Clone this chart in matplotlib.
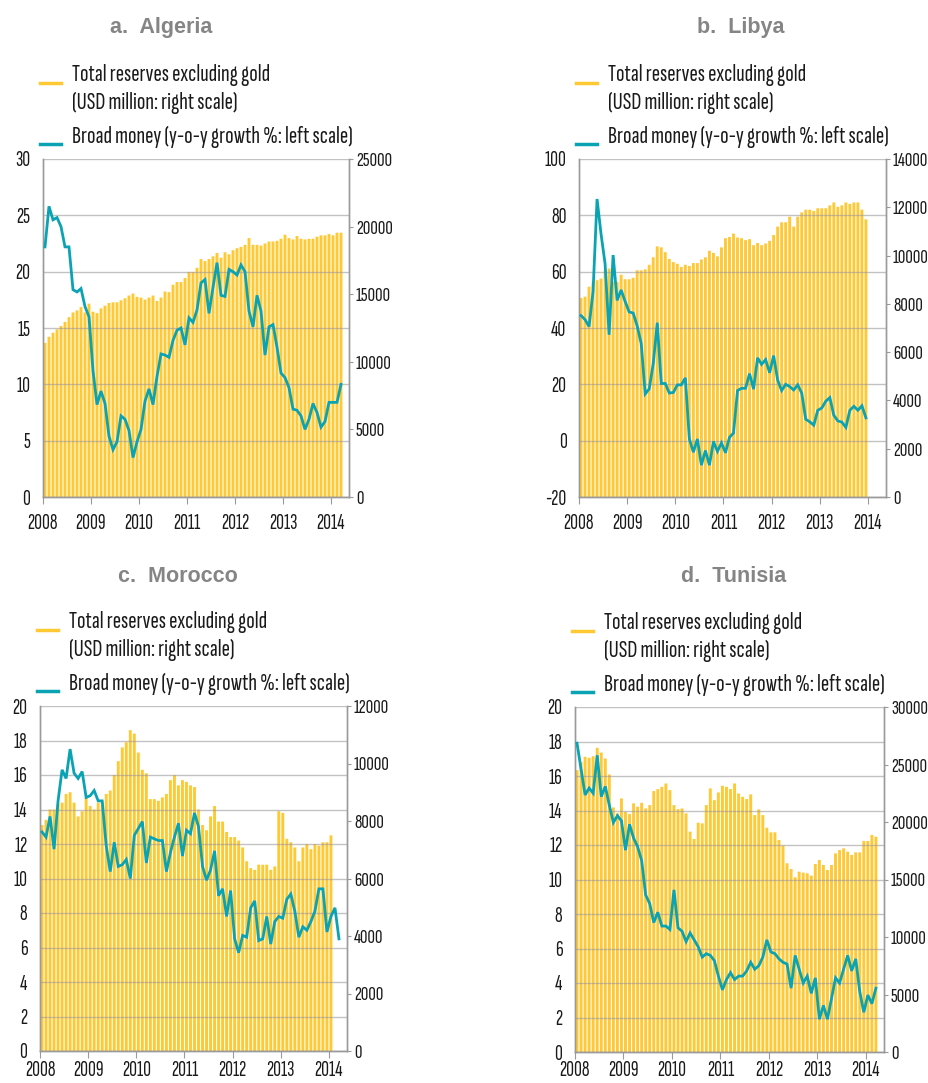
import numpy as np
import matplotlib
matplotlib.use("Agg")
import matplotlib.pyplot as plt
from matplotlib.lines import Line2D

plt.rcParams['font.family'] = ['Sofia Sans Extra Condensed', 'DejaVu Sans']
plt.rcParams['axes.unicode_minus'] = False

years = ["2008", "2009", "2010", "2011", "2012", "2013", "2014"]

# Algeria (Jan 2008 - Mar 2014)
alg_res = [11400, 11850, 12150, 12400, 12650, 12950, 13300, 13650, 13800, 14050, 13650, 14300,
           13700, 13600, 13950, 14150, 14350, 14400, 14400, 14550, 14700, 14900, 15050, 14800,
           14750, 14600, 14750, 14900, 14500, 14750, 15200, 15150, 15700, 15900, 15900, 16200,
           16650, 16650, 16950, 17600, 17450, 17600, 17800, 18050, 17700, 18100, 17950, 18250,
           18400, 18500, 18650, 19150, 18650, 18650, 18600, 18750, 18900, 18900, 18950, 19100,
           19400, 19150, 19050, 19300, 19100, 19050, 19100, 19100, 19250, 19350, 19350, 19450,
           19350, 19550, 19550]
alg_m2 = [22.2, 25.8, 24.6, 24.8, 24.0, 22.2, 22.2, 18.4, 18.2, 18.5, 16.9, 16.0,
          11.2, 8.2, 9.4, 8.3, 5.4, 4.2, 4.9, 7.2, 6.9, 5.9, 3.5, 4.9,
          6.0, 8.5, 9.6, 8.2, 10.7, 12.7, 12.6, 12.4, 13.9, 14.8, 15.0, 13.5,
          15.9, 15.5, 16.6, 19.0, 19.3, 16.3, 18.6, 20.8, 17.9, 17.8, 20.2, 20.0,
          19.7, 20.6, 20.0, 16.5, 15.1, 17.9, 16.5, 12.6, 15.1, 15.3, 13.3, 11.0,
          10.6, 9.7, 7.8, 7.7, 7.2, 6.0, 6.9, 8.3, 7.5, 6.2, 6.7, 8.4,
          8.4, 8.4, 10.0]

# Libya (Jan 2008 - Dec 2013)
lby_res = [8240, 8300, 8710, 8890, 8980, 9050, 9390, 9460, 8910, 8910, 9210, 9020,
           9020, 9080, 9390, 9390, 9430, 9620, 9930, 10380, 10340, 10140, 9860, 9730,
           9660, 9530, 9620, 9570, 9690, 9690, 9840, 9930, 10200, 10110, 9970, 10340,
           10720, 10770, 10910, 10750, 10720, 10640, 10680, 10430, 10520, 10430, 10500, 10610,
           10850, 11200, 11380, 11380, 11610, 11200, 11610, 11790, 11900, 11900, 11850, 11960,
           11960, 11960, 12080, 12200, 12020, 12080, 12200, 12140, 12200, 12200, 11900, 11500]
lby_m2 = [44.4, 43.0, 40.5, 52.9, 85.8, 73.3, 62.8, 37.6, 65.9, 49.8, 53.5, 49.4,
          45.7, 45.3, 40.7, 34.5, 16.6, 18.4, 27.3, 41.9, 20.3, 20.3, 16.9, 17.1,
          19.8, 19.8, 22.3, 0.6, -4.1, 0.6, -8.7, -3.5, -8.7, -0.3, -3.8, -0.8,
          -4.3, 1.2, 2.7, 17.8, 18.6, 18.6, 23.8, 18.3, 29.4, 27.1, 28.8, 24.1,
          30.2, 21.5, 17.8, 20.0, 19.2, 18.0, 19.8, 16.9, 7.6, 6.7, 5.5, 10.8,
          11.6, 14.0, 15.3, 9.0, 7.0, 6.6, 4.7, 10.8, 12.2, 10.8, 12.4, 8.1]

# Morocco (reserves Jan 2008 - Jan 2014, money Jan 2008 - Mar 2014)
mar_res = [7860, 8040, 8400, 8400, 8580, 8640, 8940, 9000, 8640, 8160, 8340, 8820,
           8520, 8400, 8640, 8640, 8940, 9060, 9600, 10080, 10560, 10740, 11160, 11040,
           10380, 9780, 9660, 8760, 8760, 8700, 8820, 8940, 9420, 9600, 9240, 9420,
           9360, 9240, 9180, 8400, 7860, 7680, 8160, 8520, 7980, 7980, 7620, 7440,
           7440, 7320, 7080, 6600, 6360, 6300, 6480, 6480, 6480, 6300, 6420, 8340,
           8280, 7380, 7260, 7080, 6600, 7080, 7200, 7020, 7200, 7140, 7260, 7260,
           7500]
mar_m2 = [12.7, 12.4, 13.6, 11.7, 14.5, 16.3, 15.8, 17.5, 16.1, 15.8, 16.2, 14.7,
          14.8, 15.1, 14.5, 14.5, 11.9, 10.4, 12.1, 10.7, 10.8, 11.1, 10.0, 12.5,
          12.9, 13.3, 10.9, 12.4, 12.3, 12.2, 12.2, 10.4, 11.5, 12.4, 13.2, 11.3,
          12.8, 12.6, 13.8, 13.0, 10.7, 9.9, 10.5, 11.6, 9.0, 9.4, 7.8, 9.3,
          6.5, 5.7, 6.7, 6.6, 8.3, 8.7, 6.4, 6.5, 7.8, 6.2, 7.5, 7.8,
          7.7, 8.8, 9.1, 8.1, 6.6, 7.2, 7.0, 7.5, 8.1, 9.4, 9.4, 6.9,
          7.8, 8.3, 6.5]

# Tunisia (Jan 2008 - Mar 2014)
tun_res = [24510, 25230, 25670, 25580, 25720, 26450, 26040, 25520, 24130, 21270, 20750, 22050,
           20890, 20690, 21620, 21330, 21670, 21180, 21470, 22690, 22860, 23060, 23350, 22770,
           21470, 21120, 21180, 20750, 19160, 18520, 19940, 19880, 21470, 22920, 21900, 22570,
           23150, 23060, 22860, 23350, 22480, 22190, 21990, 22400, 20600, 21090, 20600, 19500,
           19100, 19100, 18430, 17940, 16410, 15910, 15190, 15680, 15600, 15540, 15340, 16350,
           16700, 16260, 15830, 16260, 17270, 17560, 17710, 17420, 17130, 17360, 17360, 18350,
           18350, 18870, 18720]
tun_m2 = [17.9, 16.4, 14.9, 15.3, 15.0, 17.2, 14.8, 15.4, 14.3, 13.3, 13.7, 13.4,
          11.7, 13.2, 12.4, 11.9, 11.1, 9.1, 8.6, 7.5, 8.1, 7.3, 7.3, 7.1,
          9.4, 7.2, 7.0, 6.4, 6.9, 6.5, 6.1, 5.5, 5.7, 5.6, 5.3, 4.4,
          3.6, 4.2, 4.6, 4.2, 4.4, 4.4, 4.7, 5.2, 4.8, 5.0, 5.5, 6.5,
          5.8, 5.7, 5.4, 5.2, 5.1, 3.7, 5.6, 4.8, 4.0, 4.4, 3.4, 4.3,
          1.9, 2.7, 1.9, 3.1, 4.3, 4.0, 4.8, 5.6, 4.7, 5.4, 3.5, 2.3,
          3.3, 2.8, 3.7]

BAR = "#FFC933"
LINE = "#0AA3B3"
GRID = "#9a9a9a"
TXT = "#1a1a1a"
W, H = 929, 1083

fig = plt.figure(figsize=(W / 100, H / 100), dpi=100)


def px_axes(l, t, r, b):
    return fig.add_axes([l / W, 1 - b / H, (r - l) / W, (b - t) / H])


def panel(box, title, title_xy, res, m2, lticks, rticks, xpad=7):
    l, t, r, b = box
    ax = px_axes(l, t, r, b)
    ax2 = ax.twinx()
    ax.set_zorder(ax2.get_zorder() + 1)
    ax.patch.set_visible(False)

    xb = np.arange(len(res)) + 0.5
    bars = ax2.bar(xb, res, width=0.72, color=BAR, linewidth=0)
    for p in bars:
        p.set_snap(False)
    xl = np.arange(len(m2)) + 0.5
    ax.plot(xl, m2, color=LINE, lw=2.0, solid_joinstyle="miter", zorder=3)

    ax.set_xlim(0, 76.5)
    ax.set_ylim(lticks[0], lticks[-1])
    ax2.set_ylim(rticks[0], rticks[-1])
    ax.set_yticks(lticks)
    ax2.set_yticks(rticks)
    ax.set_xticks(np.arange(0, 73, 12))
    ax.set_xticklabels(years)
    ax.yaxis.grid(True, color=GRID, lw=1.0, alpha=0.6)
    ax.set_axisbelow(False)

    for a in (ax, ax2):
        for s in a.spines.values():
            s.set_color(GRID)
            s.set_linewidth(1.0)
        a.spines["top"].set_visible(False)
    ax.tick_params(axis="y", length=0, labelsize=15.5, pad=9, colors=TXT)
    ax.tick_params(axis="x", length=5, color=GRID, labelsize=15.5, pad=xpad, labelcolor=TXT)
    ax2.tick_params(axis="y", length=3, color=GRID, labelsize=15, pad=2, labelcolor=TXT)

    tx, ty = title_xy
    fig.text(tx / W, 1 - ty / H, title, ha="center", va="center",
             fontsize=15.5, fontweight="bold", color="#858585",
             family=["Liberation Sans", "DejaVu Sans"])

    # legend
    lx = l - 3
    ly = t - 84
    fig.add_artist(Line2D([lx / W, (lx + 21) / W], [1 - (ly + 8) / H] * 2, color=BAR, lw=2.5))
    fig.add_artist(Line2D([lx / W, (lx + 21) / W], [1 - (ly + 69) / H] * 2, color=LINE, lw=2.5))
    fig.text((lx + 32) / W, 1 - ly / H, "Total reserves excluding gold", fontsize=18,
             va="center", color=TXT)
    fig.text((lx + 32) / W, 1 - (ly + 28) / H, "(USD million: right scale)", fontsize=18,
             va="center", color=TXT)
    fig.text((lx + 32) / W, 1 - (ly + 62) / H, "Broad money (y-o-y growth %: left scale)",
             fontsize=18, va="center", color=TXT)


panel((43, 159, 349, 497), "a.  Algeria", (161, 27), alg_res, alg_m2,
      list(range(0, 31, 5)), list(range(0, 25001, 5000)))
panel((579, 159, 886, 497), "b.  Libya", (741, 27), lby_res, lby_m2,
      list(range(-20, 101, 20)), list(range(0, 14001, 2000)))
panel((40, 706, 347, 1051), "c.  Morocco", (178, 577), mar_res, mar_m2,
      list(range(0, 21, 2)), list(range(0, 12001, 2000)), xpad=2)
panel((575, 707, 884, 1052), "d.  Tunisia", (734, 577), tun_res, tun_m2,
      list(range(0, 21, 2)), list(range(0, 30001, 5000)), xpad=1.5)

fig.savefig("out.png", dpi=100, facecolor="white")
